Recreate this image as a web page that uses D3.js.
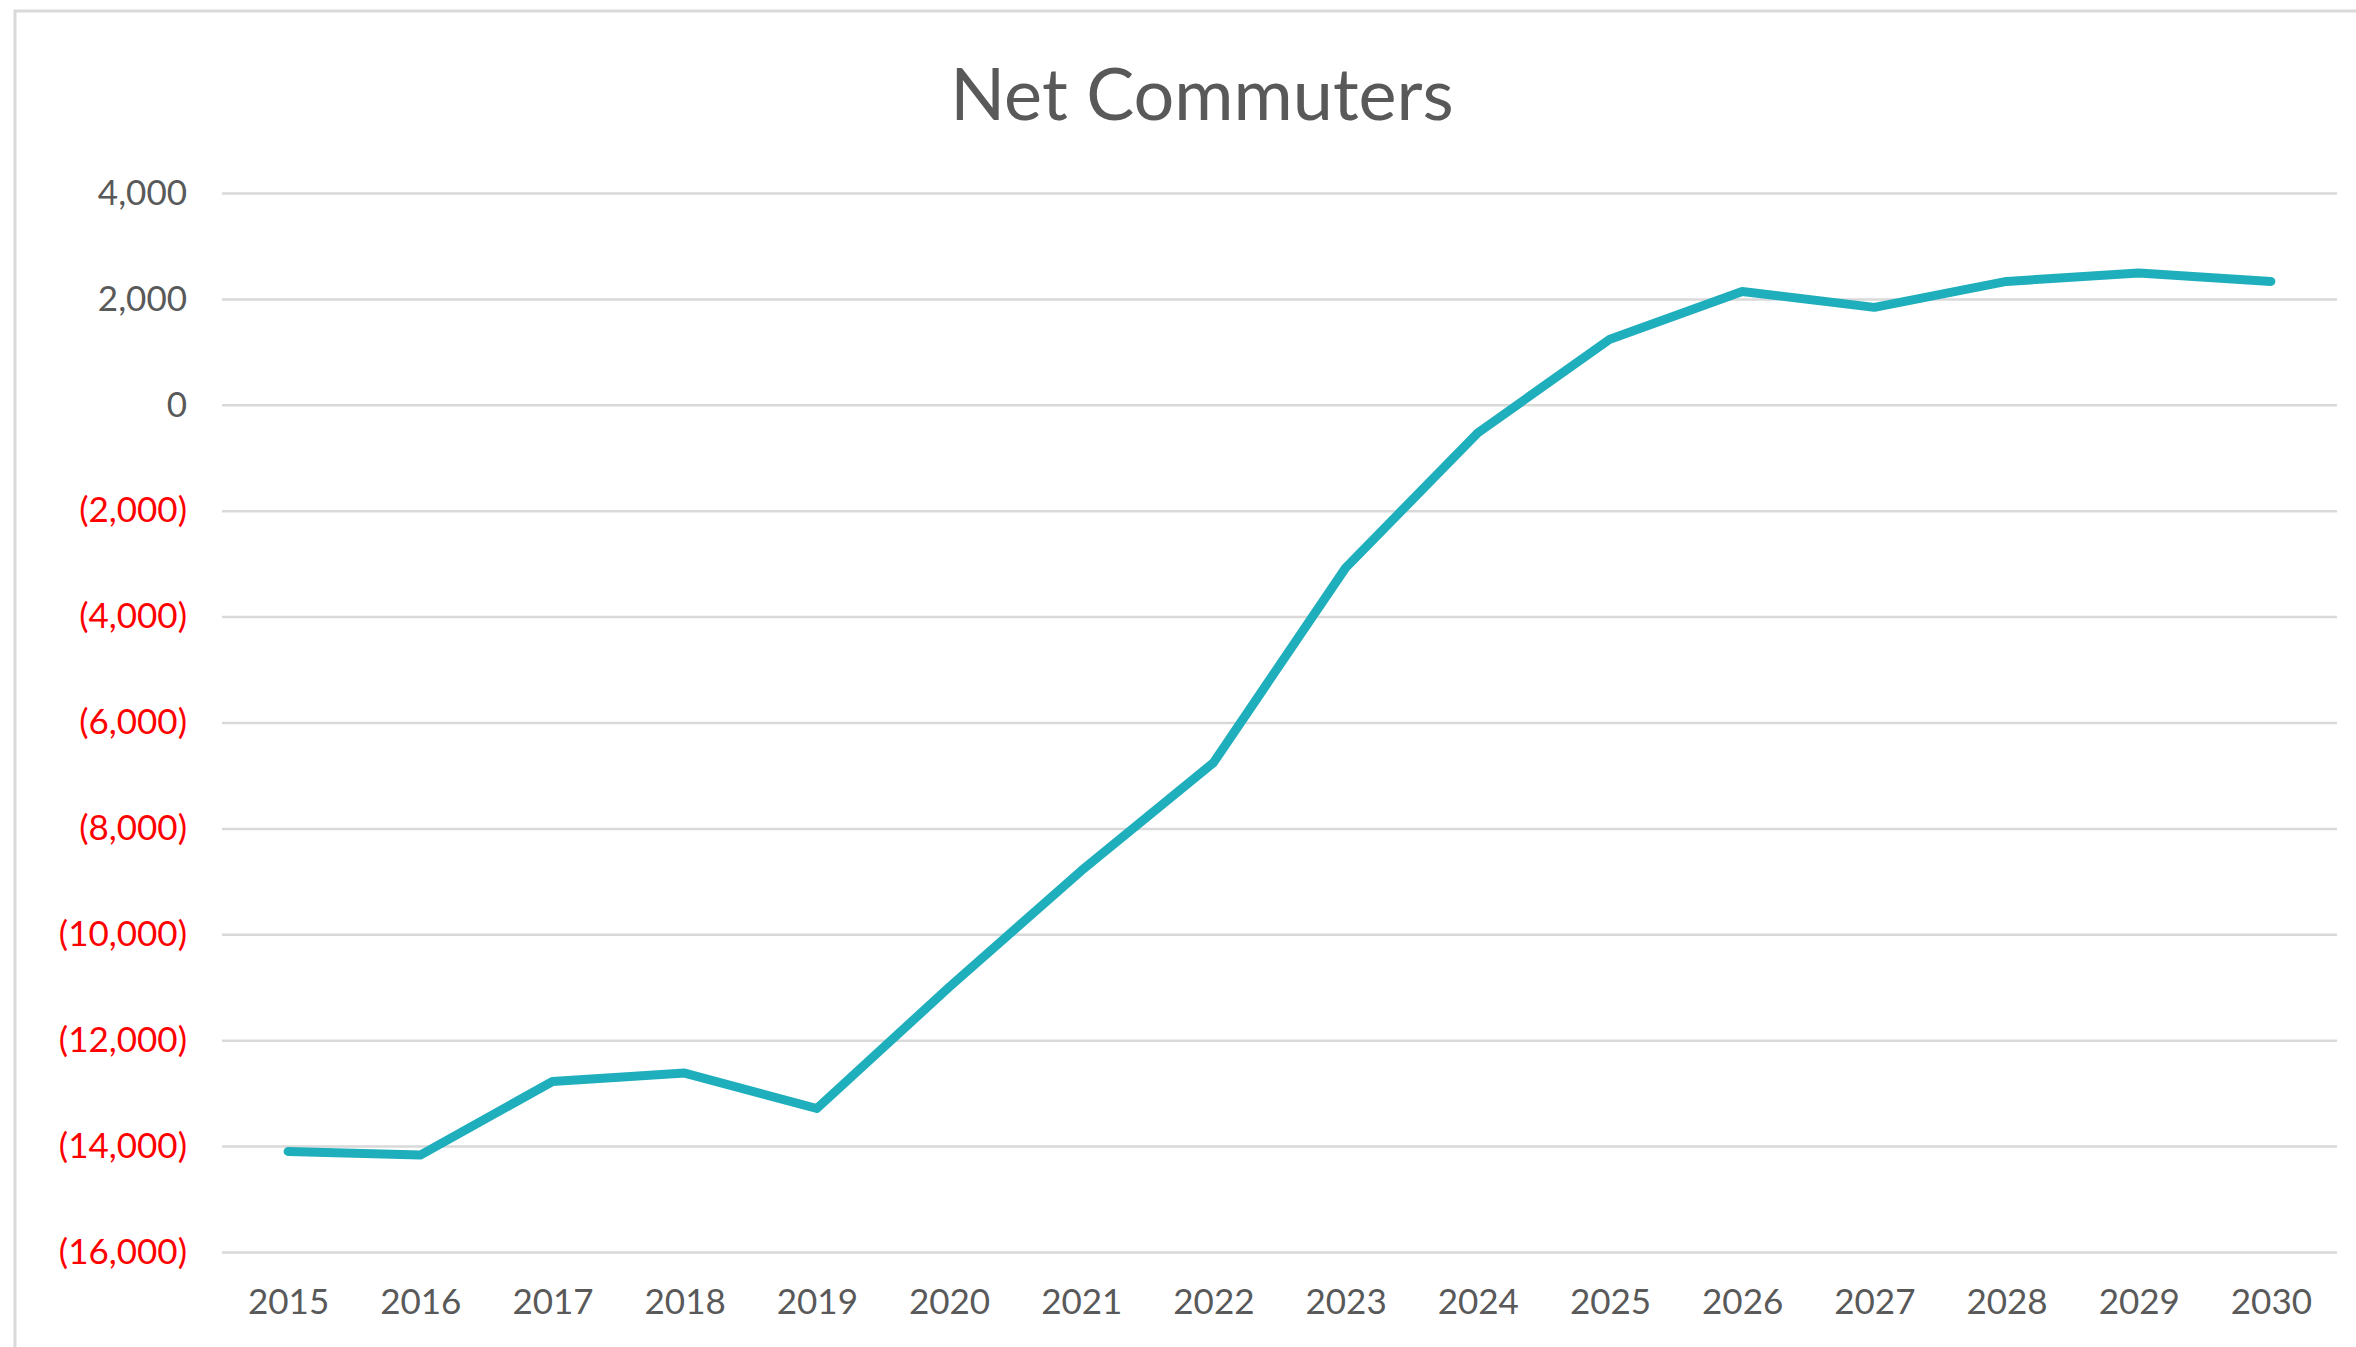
<!DOCTYPE html>
<html>
<head>
<meta charset="utf-8">
<script src="https://cdn.jsdelivr.net/npm/d3@7"></script>
<style>
	body { margin: 0; background: #fff; }
	svg { display: block; }
	.text { font-family: Lato, "Open Sans", sans-serif; }
</style>
</head>
<body>
<div class="chart"></div>
<script>
var outerW = 2356,
	outerH = 1347;
var margin = {top: 193, right: 19, bottom: 95, left: 222};
var width = outerW - margin.left - margin.right,
	height = outerH - margin.top - margin.bottom;

// Data
var years = ["2015", "2016", "2017", "2018", "2019", "2020", "2021", "2022",
	"2023", "2024", "2025", "2026", "2027", "2028", "2029", "2030"];
var netCommuters = [-14100, -14170, -12780, -12620, -13290, -11000, -8800, -6760,
	-3080, -530, 1240, 2140, 1840, 2330, 2490, 2330];
var yTicks = [4000, 2000, 0, -2000, -4000, -6000, -8000, -10000, -12000, -14000, -16000];
var title = "Net Commuters";

var svg = d3.select(".chart")
	.append("svg")
	.attr("width", outerW)
	.attr("height", outerH);

// chart area border (only top and left show in the crop)
svg.append("rect")
	.attr("x", 15)
	.attr("y", 11)
	.attr("width", outerW + 20)
	.attr("height", outerH + 20)
	.attr("fill", "#fff")
	.attr("stroke", "#d9d9d9")
	.attr("stroke-width", 3);

var g = svg.append("g")
	.attr("transform", "translate(" + margin.left + "," + margin.top + ")");

var x = d3.scalePoint()
	.domain(years)
	.range([0, width])
	.padding(0.5);

var y = d3.scaleLinear()
	.domain([-16000, 4000])
	.range([height, 0]);

var fmt = function(v) {
	var s = d3.format(",")(Math.abs(v));
	return v < 0 ? "(" + s + ")" : s;
};

// y axis + gridlines
var yAxis = g.append("g")
	.attr("class", "text")
	.call(d3.axisLeft(y)
		.tickValues(yTicks)
		.tickSize(-width)
		.tickPadding(35)
		.tickFormat(fmt));
yAxis.select(".domain").remove();
yAxis.selectAll("line")
	.attr("stroke", "#d9d9d9")
	.attr("stroke-width", 2.5);
yAxis.selectAll("text")
	.attr("font-size", 35)
	.attr("fill", function(d) { return d < 0 ? "#ff0000" : "#595959"; });

// x axis labels
var xAxis = g.append("g")
	.attr("class", "text")
	.attr("transform", "translate(0," + height + ")")
	.call(d3.axisBottom(x).tickSize(0).tickPadding(37));
xAxis.select(".domain").remove();
xAxis.selectAll("text")
	.attr("font-size", 35)
	.attr("fill", "#595959");

// line
var line = d3.line()
	.x(function(d, i) { return x(years[i]); })
	.y(function(d) { return y(d); });

g.append("path")
	.datum(netCommuters)
	.attr("d", line)
	.attr("fill", "none")
	.attr("stroke", "#1fafbc")
	.attr("stroke-width", 9)
	.attr("stroke-linejoin", "round")
	.attr("stroke-linecap", "round");

// title
svg.append("text")
	.attr("class", "text")
	.attr("x", 1202)
	.attr("y", 120)
	.attr("text-anchor", "middle")
	.attr("font-size", 72)
	.attr("fill", "#595959")
	.text(title);
</script>
</body>
</html>
